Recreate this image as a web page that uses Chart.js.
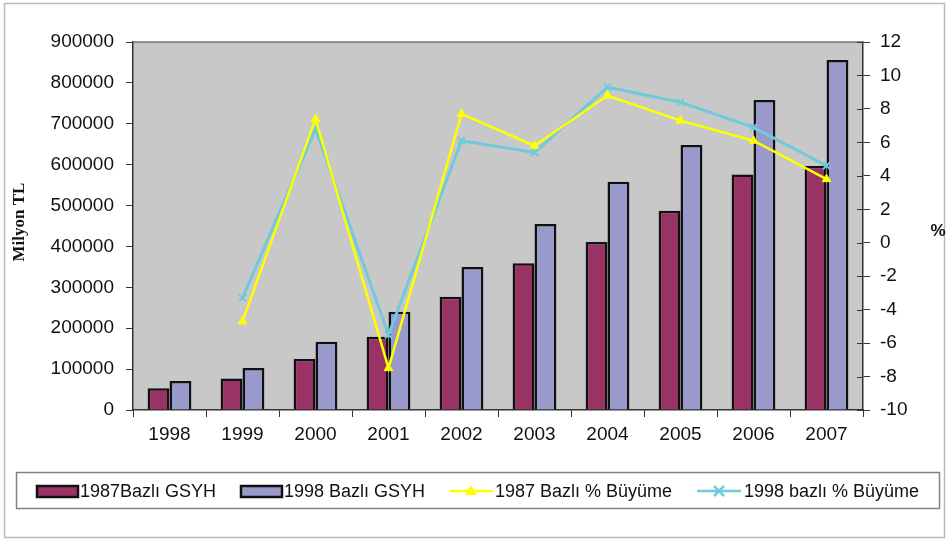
<!DOCTYPE html>
<html>
<head>
    <title>GSYH ve Büyüme</title>
    <script src="https://cdn.jsdelivr.net/npm/chart.js"></script>
    <style>
        body { margin: 0; background: #fff; }
        canvas { display: block; }
    </style>
</head>
<body>
    <canvas id="chart" width="947" height="540"></canvas>

    <script>
        // data
        const years = ['1998', '1999', '2000', '2001', '2002', '2003', '2004', '2005', '2006', '2007'];
        const gsyh1987 = [53000, 77000, 125000, 179000, 277000, 359000, 411000, 487000, 576000, 597000];
        const gsyh1998 = [71000, 103000, 167000, 240000, 350000, 455000, 558000, 648000, 758000, 856000];
        const growth1987 = [null, -4.7, 7.4, -7.5, 7.7, 5.8, 8.8, 7.3, 6.1, 3.8];
        const growth1998 = [null, -3.3, 6.8, -5.5, 6.1, 5.4, 9.3, 8.4, 6.9, 4.6];
        const seriesNames = ['1987Bazlı GSYH', '1998 Bazlı GSYH', '1987 Bazlı % Büyüme', '1998 bazlı % Büyüme'];

        const FONT = 'Liberation Sans, Arial, sans-serif';
        const MAROON = '#993366', LILAC = '#9999cc', YELLOW = '#ffff00', CYAN = '#6fcbd9';

        const framePlugin = {
            id: 'frame',
            beforeDraw(chart) {
                const { ctx, chartArea: a } = chart;
                ctx.save();
                ctx.fillStyle = '#fff';
                ctx.fillRect(0, 0, chart.width, chart.height);
                ctx.fillStyle = '#c8c8c8';
                ctx.fillRect(a.left, a.top, a.right - a.left, a.bottom - a.top);
                ctx.restore();
            },
            afterDraw(chart) {
                const { ctx, chartArea: a } = chart;
                ctx.save();
                // outer frame
                ctx.strokeStyle = '#b8b8b8';
                ctx.lineWidth = 1.5;
                ctx.strokeRect(4.5, 3.5, 940, 534);
                // top edge of plot
                ctx.strokeStyle = '#7a7570';
                ctx.lineWidth = 1.5;
                ctx.beginPath();
                ctx.moveTo(a.left, a.top);
                ctx.lineTo(a.right, a.top);
                ctx.stroke();
                // inner half of the right axis ticks
                const y1 = chart.scales.y1;
                ctx.strokeStyle = '#333';
                ctx.lineWidth = 1;
                y1.ticks.forEach(t => {
                    const py = Math.round(y1.getPixelForValue(t.value)) + 0.5;
                    ctx.beginPath();
                    ctx.moveTo(a.right - 6, py);
                    ctx.lineTo(a.right, py);
                    ctx.stroke();
                });
                // axis titles
                ctx.fillStyle = '#111';
                ctx.font = 'bold 17px Liberation Serif, Times New Roman, serif';
                ctx.textAlign = 'center';
                ctx.textBaseline = 'middle';
                ctx.save();
                ctx.translate(20, 222);
                ctx.rotate(-Math.PI / 2);
                ctx.fillText('Milyon TL', 0, 0);
                ctx.restore();
                ctx.font = 'bold 17px ' + FONT;
                ctx.fillText('%', 938, 231);

                // legend
                ctx.strokeStyle = '#8a807a';
                ctx.lineWidth = 1.5;
                ctx.strokeRect(16.5, 472.5, 923, 36);
                ctx.font = '18px ' + FONT;
                ctx.textAlign = 'left';
                const ly = 491;
                const boxes = [[37, MAROON], [241, LILAC]];
                boxes.forEach(([x, c]) => {
                    ctx.fillStyle = c;
                    ctx.fillRect(x, ly - 5, 41, 11);
                    ctx.strokeStyle = '#111';
                    ctx.lineWidth = 2.5;
                    ctx.strokeRect(x, ly - 5, 41, 11);
                });
                ctx.fillStyle = '#111';
                ctx.fillText(seriesNames[0], 80, ly + 1);
                ctx.fillText(seriesNames[1], 284, ly + 1);
                // yellow line sample
                ctx.strokeStyle = YELLOW;
                ctx.lineWidth = 2.5;
                ctx.beginPath(); ctx.moveTo(450, ly); ctx.lineTo(493, ly); ctx.stroke();
                ctx.fillStyle = YELLOW;
                ctx.beginPath(); ctx.moveTo(471, ly - 6); ctx.lineTo(477, ly + 4); ctx.lineTo(465, ly + 4); ctx.closePath(); ctx.fill();
                // cyan line sample
                ctx.strokeStyle = CYAN;
                ctx.beginPath(); ctx.moveTo(697, ly); ctx.lineTo(741, ly); ctx.stroke();
                ctx.beginPath();
                ctx.moveTo(714, ly - 5); ctx.lineTo(724, ly + 5);
                ctx.moveTo(724, ly - 5); ctx.lineTo(714, ly + 5);
                ctx.stroke();
                ctx.fillStyle = '#111';
                ctx.fillText(seriesNames[2], 495, ly + 1);
                ctx.fillText(seriesNames[3], 744, ly + 1);
                ctx.restore();
            }
        };

        const tickFont = { family: FONT, size: 19 };
        const plain = v => String(v);

        new Chart(document.getElementById('chart'), {
            type: 'bar',
            data: {
                labels: years,
                datasets: [
                    {
                        label: seriesNames[0], data: gsyh1987, yAxisID: 'y',
                        backgroundColor: MAROON, borderColor: '#111', borderWidth: 2.5,
                        categoryPercentage: 0.6, barPercentage: 1.0, order: 2
                    },
                    {
                        label: seriesNames[1], data: gsyh1998, yAxisID: 'y',
                        backgroundColor: LILAC, borderColor: '#111', borderWidth: 2.5,
                        categoryPercentage: 0.6, barPercentage: 1.0, order: 3
                    },
                    {
                        type: 'line', label: seriesNames[2], data: growth1987, yAxisID: 'y1',
                        borderColor: YELLOW, borderWidth: 2.5, backgroundColor: YELLOW,
                        pointStyle: 'triangle', pointRadius: 5, pointBorderWidth: 1,
                        tension: 0, order: 0
                    },
                    {
                        type: 'line', label: seriesNames[3], data: growth1998, yAxisID: 'y1',
                        borderColor: CYAN, borderWidth: 3, backgroundColor: CYAN,
                        pointStyle: 'crossRot', pointRadius: 5, pointBorderWidth: 2,
                        tension: 0, order: 1
                    }
                ]
            },
            options: {
                responsive: false,
                animation: false,
                layout: { padding: { top: 42, left: 0, right: 0, bottom: 0 } },
                plugins: { legend: { display: false }, tooltip: { enabled: false } },
                scales: {
                    x: {
                        grid: { offset: true, drawOnChartArea: false, tickLength: 7, color: '#333' },
                        border: { color: '#333', width: 1.5 },
                        ticks: { font: tickFont, color: '#111', padding: 6, maxRotation: 0 },
                        afterFit: s => { s.height = 130; }
                    },
                    y: {
                        position: 'left', min: 0, max: 900000,
                        grid: { drawOnChartArea: false, tickLength: 7, color: '#333' },
                        border: { color: '#333', width: 1.5 },
                        ticks: { stepSize: 100000, font: tickFont, color: '#111', padding: 12, callback: plain },
                        afterFit: s => { s.width = 133; }
                    },
                    y1: {
                        position: 'right', min: -10, max: 12,
                        grid: { drawOnChartArea: false, tickLength: 7, color: '#333' },
                        border: { color: '#333', width: 1.5 },
                        ticks: { stepSize: 2, font: tickFont, color: '#111', padding: 10, callback: plain },
                        afterFit: s => { s.width = 84; }
                    }
                }
            },
            plugins: [framePlugin]
        });
    </script>
</body>
</html>
